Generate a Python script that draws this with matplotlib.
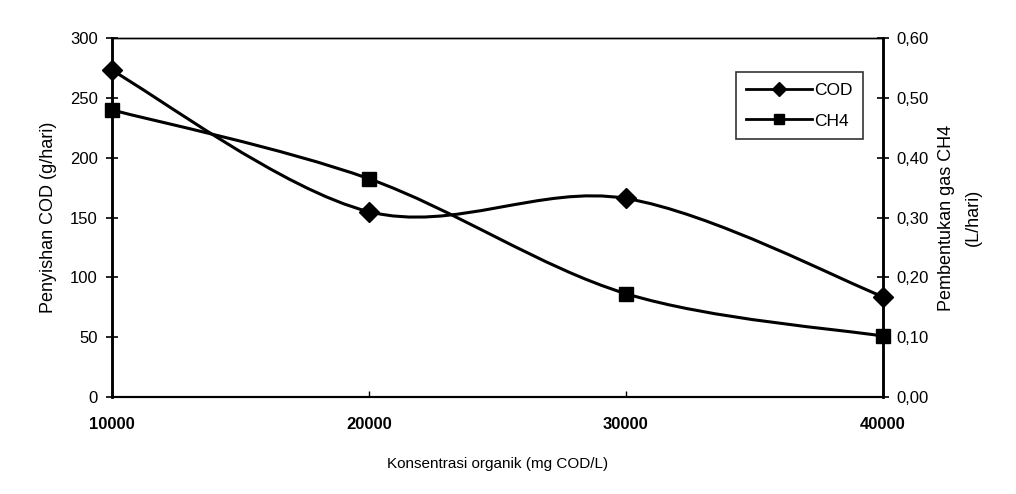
import matplotlib.pyplot as plt
from matplotlib.path import Path
from matplotlib.patches import PathPatch
from matplotlib.lines import Line2D
import numpy as np

plt.rcParams['font.family'] = ['Liberation Sans', 'DejaVu Sans']

# data
konsentrasi = [10000, 20000, 30000, 40000]
cod = [273, 155, 166, 84]
ch4 = [0.48, 0.365, 0.173, 0.102]
left_ticks = [0, 50, 100, 150, 200, 250, 300]
right_ticks = [0.0, 0.1, 0.2, 0.3, 0.4, 0.5, 0.6]
x_ticks = [10000, 20000, 30000, 40000]


# smoothed line like Excel (Catmull-Rom as cubic bezier)
def smooth_path(x, y):
    p = np.column_stack([x, y]).astype(float)
    n = len(p)
    verts = [p[0]]
    codes = [Path.MOVETO]
    for i in range(n - 1):
        p0 = p[max(i - 1, 0)]
        p1 = p[i]
        p2 = p[i + 1]
        p3 = p[min(i + 2, n - 1)]
        c1 = p1 + (p2 - p0) / 6.0
        c2 = p2 - (p3 - p1) / 6.0
        verts += [c1, c2, p2]
        codes += [Path.CURVE4] * 3
    return Path(verts, codes)


fig = plt.figure(figsize=(10.16, 4.94), dpi=100)
ax = fig.add_axes([0.110, 0.196, 0.759, 0.727])
ax2 = ax.twinx()

ax.add_patch(PathPatch(smooth_path(konsentrasi, cod), fill=False, lw=2.2, color='black',
                       transform=ax.transData, clip_on=False))
ax.plot(konsentrasi, cod, linestyle='none', marker='D', ms=10, color='black', clip_on=False, zorder=5)

ax2.add_patch(PathPatch(smooth_path(konsentrasi, ch4), fill=False, lw=2.2, color='black',
                        transform=ax2.transData, clip_on=False))
ax2.plot(konsentrasi, ch4, linestyle='none', marker='s', ms=10, color='black', clip_on=False, zorder=5)

ax.set_xlim(10000, 40000)
ax.set_ylim(0, 300)
ax2.set_ylim(0, 0.6)

ax.set_xticks(x_ticks)
ax.set_xticklabels([str(v) for v in x_ticks], fontsize=12, fontweight='bold')
ax.set_yticks(left_ticks)
ax.set_yticklabels([str(v) for v in left_ticks], fontsize=12)
ax2.set_yticks(right_ticks)
ax2.set_yticklabels([('%.2f' % v).replace('.', ',') for v in right_ticks], fontsize=12)

ax.tick_params(axis='y', direction='inout', length=8, width=1.2, pad=6)
ax2.tick_params(axis='y', direction='inout', length=8, width=1.2, pad=6)
ax.tick_params(axis='x', direction='in', length=4, width=1, pad=14)

for a in (ax, ax2):
    a.spines['left'].set_linewidth(1.8)
    a.spines['right'].set_linewidth(1.8)
    a.spines['bottom'].set_linewidth(1.5)
    a.spines['top'].set_linewidth(1)

ax.set_xlabel('Konsentrasi organik (mg COD/L)', fontsize=11, labelpad=18)
ax.set_ylabel('Penyishan COD (g/hari)', fontsize=13, labelpad=9)
ax2.set_ylabel('Pembentukan gas CH4\n(L/hari)', fontsize=13, labelpad=6, linespacing=1.8)

handles = [Line2D([], [], color='black', lw=2, marker='D', ms=7),
           Line2D([], [], color='black', lw=2, marker='s', ms=7)]
leg = ax2.legend(handles, ['COD', 'CH4'], loc='upper right', bbox_to_anchor=(0.974, 0.905),
                 fontsize=12.5, frameon=True, fancybox=False, edgecolor='black',
                 handlelength=3.8, handletextpad=0.1, borderpad=0.6, labelspacing=0.9,
                 borderaxespad=0)
leg.get_frame().set_linewidth(1.2)

fig.savefig('out.png', dpi=100)
